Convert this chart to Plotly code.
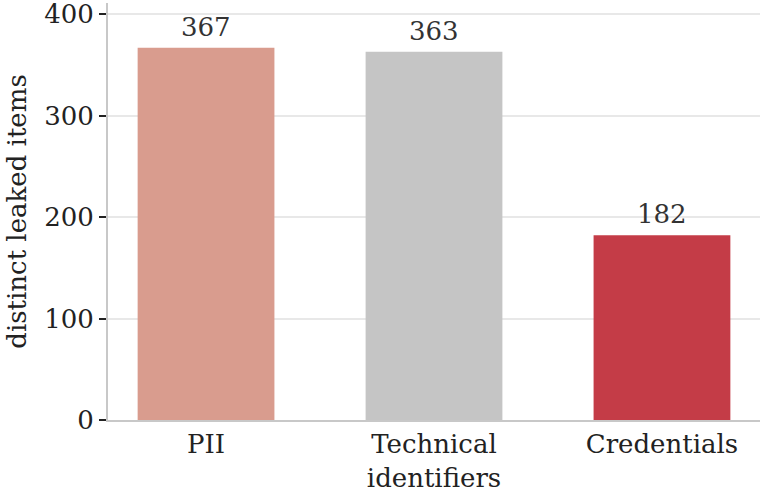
import plotly.graph_objects as go

categories = ["PII", "Technical<br>identifiers", "Credentials"]
values = [367, 363, 182]
colors = ["#d99c8e", "#c5c5c5", "#c43c47"]
y_ticks = [0, 100, 200, 300, 400]

FONT = "DejaVu Serif"
FS = 26

fig = go.Figure()
fig.add_trace(go.Bar(
    x=categories, y=values, width=0.6,
    marker=dict(color=colors, line=dict(width=0)),
    showlegend=False, hoverinfo="skip",
))
for c, v in zip(categories, values):
    fig.add_annotation(x=c, y=v, text=str(v), showarrow=False,
                       yanchor="bottom", yshift=4,
                       font=dict(family=FONT, size=FS, color="#333333"))

fig.update_layout(
    width=765, height=492,
    margin=dict(l=108, r=5, t=3, b=72),
    paper_bgcolor="white", plot_bgcolor="white",
    font=dict(family=FONT, size=FS, color="#222222"),
    bargap=0.4,
)
fig.update_xaxes(
    range=[-0.43, 2.43], showline=True, linecolor="#c8c8c8", linewidth=2,
    ticks="", showgrid=False, tickfont=dict(size=FS, color="#222222"),
    automargin=False,
)
fig.update_yaxes(
    range=[0, 411], tickvals=y_ticks, showline=True, linecolor="#c8c8c8", linewidth=2,
    ticks="outside", ticklen=7, tickcolor="#222222", tickwidth=1.5,
    showgrid=True, gridcolor="#e8e8e8", gridwidth=1.5, zeroline=False,
    tickfont=dict(size=FS, color="#222222"), automargin=False,
    ticklabeloverflow="allow",
    title=dict(text="distinct leaked items", font=dict(size=FS, color="#222222"), standoff=10),
)
fig.write_html("out.html", config={"displayModeBar": False},
               post_script="document.body.style.margin='0px';")
